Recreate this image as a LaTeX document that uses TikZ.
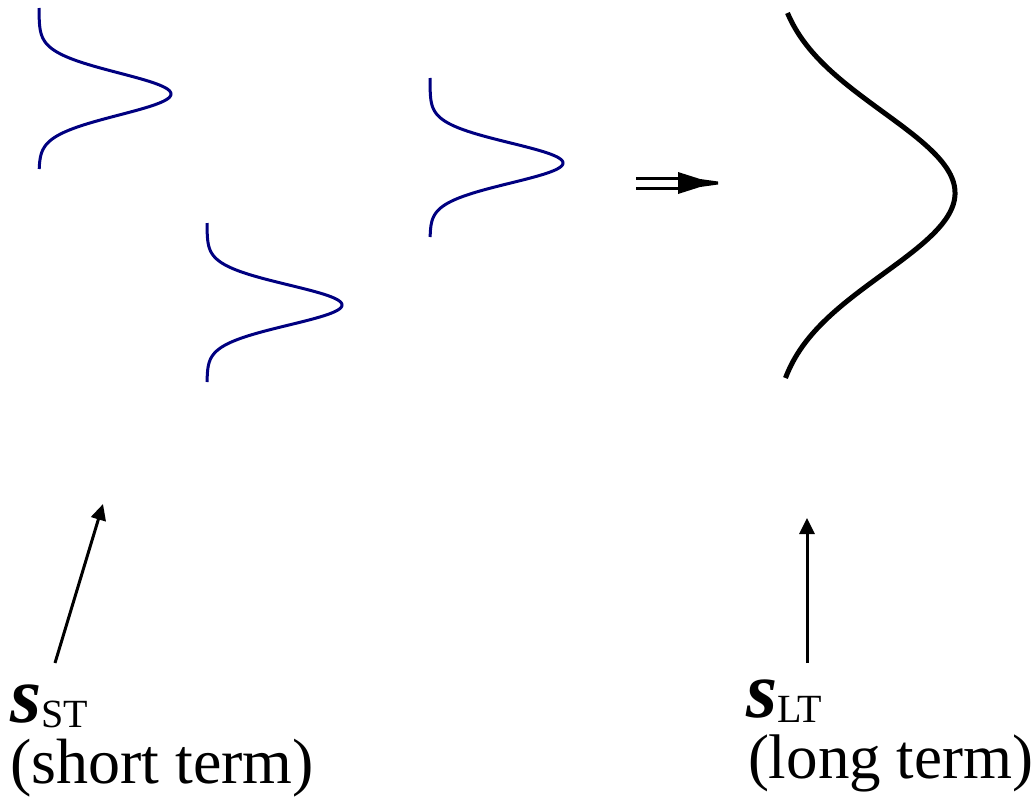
\documentclass[tikz,border=0pt]{standalone}
\usepackage{fontspec}
\setmainfont{Liberation Serif}
\usetikzlibrary{arrows.meta}
\definecolor{navyc}{RGB}{0,0,128}
\begin{document}
\begin{tikzpicture}[x=1pt,y=-1pt,
  shortcurve/.style={navyc, line width=3pt},
  longcurve/.style={black, line width=5pt},
  pointer/.style={black, line width=3pt, -{Triangle[length=16pt,width=15pt]}},
  lbl/.style={anchor=base west, inner sep=0pt, outer sep=0pt},
]
\useasboundingbox (0,0) rectangle (1036,809);
% short-term distributions
\draw[shortcurve] plot[variable=\t, domain=-86:75, samples=160]
  ({39+132*exp(-0.5*(\t/21)*(\t/21))}, {94+\t});
\draw[shortcurve] plot[variable=\t, domain=-82:77, samples=160]
  ({207+135*exp(-0.5*(\t/20)*(\t/20))}, {305+\t});
\draw[shortcurve] plot[variable=\t, domain=-85:74, samples=160]
  ({430+133*exp(-0.5*(\t/20)*(\t/20))}, {163+\t});
% long-term distribution
\draw[longcurve] plot[variable=\t, domain=-180:185, samples=200]
  ({772+183*exp(-0.5*(\t/81)*(\t/81))}, {193+\t});
% implication arrow
\coordinate (dA) at (636,183);
\coordinate (dB) at (718,183);
\draw[black, line width=3pt] (636,178) -- (690,178);
\draw[black, line width=3pt] (636,188) -- (690,188);
\fill[black] (678,172) -- (700,179) -- (718,181.5) -- (718,184.5) -- (700,187) -- (678,194) -- cycle;
% labels
\node[lbl] (sst) at (10,722) {\fontsize{80}{80}\selectfont\bfseries\itshape s\raisebox{-5pt}{\fontsize{40}{40}\selectfont\mdseries\upshape ST}};
\node[lbl] (sstt) at (10,783) {\fontsize{64}{64}\selectfont (short term)};
\node[lbl] (slt) at (746,717) {\fontsize{80}{80}\selectfont\bfseries\itshape s\raisebox{-5pt}{\fontsize{40}{40}\selectfont\mdseries\upshape LT}};
\node[lbl] (sltt) at (748,778) {\fontsize{63}{63}\selectfont (long term)};
\coordinate (tipA) at (103,504);
\coordinate (tailA) at (55,663);
\coordinate (tipB) at (807,518);
\coordinate (tailB) at (807,663);
\draw[pointer] (tailA) -- (tipA);
\draw[pointer] (tailB) -- (tipB);
\end{tikzpicture}
\end{document}
